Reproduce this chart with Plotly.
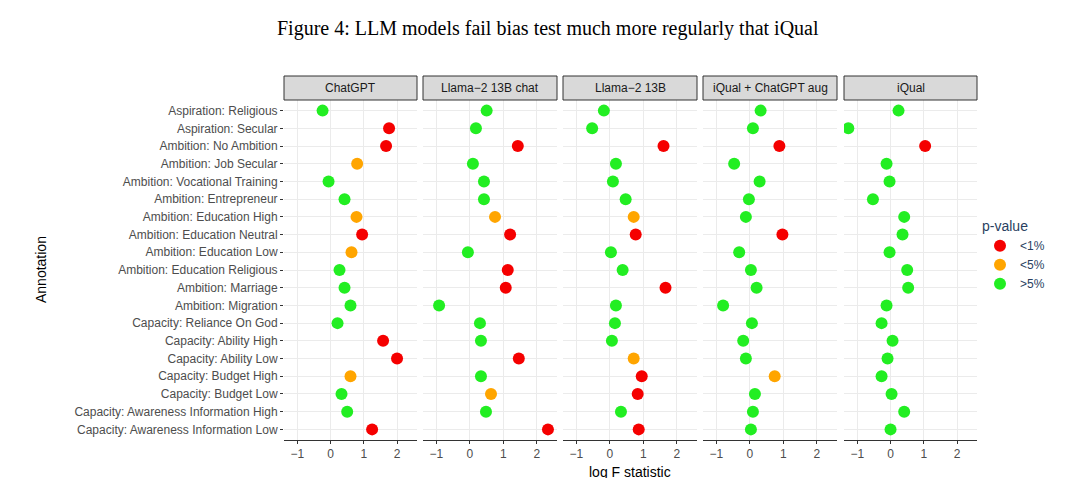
import plotly.graph_objects as go

annotations_list = [
    "Aspiration: Religious", "Aspiration: Secular", "Ambition: No Ambition", "Ambition: Job Secular",
    "Ambition: Vocational Training", "Ambition: Entrepreneur", "Ambition: Education High",
    "Ambition: Education Neutral", "Ambition: Education Low", "Ambition: Education Religious",
    "Ambition: Marriage", "Ambition: Migration", "Capacity: Reliance On God", "Capacity: Ability High",
    "Capacity: Ability Low", "Capacity: Budget High", "Capacity: Budget Low",
    "Capacity: Awareness Information High", "Capacity: Awareness Information Low",
]
models = ["ChatGPT", "Llama\u22122 13B chat", "Llama\u22122 13B", "iQual + ChatGPT aug", "iQual"]

chatgpt_vals = [-0.24, 1.76, 1.67, 0.8, -0.06, 0.42, 0.78, 0.95, 0.63, 0.27, 0.42, 0.6, 0.21, 1.58, 2.0, 0.6, 0.33, 0.5, 1.25]
chatgpt_p = ["g", "r", "r", "o", "g", "g", "o", "r", "o", "g", "g", "g", "g", "r", "r", "o", "g", "g", "r"]
llama_chat_vals = [0.5, 0.18, 1.43, 0.09, 0.42, 0.42, 0.75, 1.2, -0.06, 1.13, 1.07, -0.92, 0.3, 0.33, 1.46, 0.33, 0.63, 0.48, 2.33]
llama_chat_p = ["g", "g", "r", "g", "g", "g", "o", "r", "g", "r", "r", "g", "g", "g", "r", "g", "o", "g", "r"]
llama_vals = [-0.18, -0.53, 1.6, 0.18, 0.09, 0.47, 0.71, 0.77, 0.03, 0.38, 1.66, 0.18, 0.15, 0.06, 0.71, 0.95, 0.83, 0.33, 0.86]
llama_p = ["g", "g", "r", "g", "g", "g", "o", "r", "g", "g", "r", "g", "g", "g", "o", "r", "r", "g", "r"]
iqual_aug_vals = [0.32, 0.09, 0.88, -0.47, 0.29, -0.03, -0.12, 0.97, -0.32, 0.03, 0.2, -0.8, 0.06, -0.2, -0.12, 0.74, 0.15, 0.09, 0.03]
iqual_aug_p = ["g", "g", "r", "g", "g", "g", "g", "r", "g", "g", "g", "g", "g", "g", "g", "o", "g", "g", "g"]
iqual_vals = [0.24, -1.27, 1.04, -0.12, -0.03, -0.53, 0.41, 0.36, -0.03, 0.5, 0.53, -0.12, -0.27, 0.06, -0.09, -0.27, 0.03, 0.41, 0.0]
iqual_p = ["g", "g", "r", "g", "g", "g", "g", "g", "g", "g", "g", "g", "g", "g", "g", "g", "g", "g", "g"]

all_vals = [chatgpt_vals, llama_chat_vals, llama_vals, iqual_aug_vals, iqual_vals]
all_p = [chatgpt_p, llama_chat_p, llama_p, iqual_aug_p, iqual_p]

colors = {"r": "#f50000", "o": "#ffa500", "g": "#22ee22"}
legend_names = {"r": "<1%", "o": "<5%", "g": ">5%"}

W, H = 1080, 478
panels_px = [(276, 409), (415, 549), (555, 689), (695, 829), (836, 969)]
top_px, bot_px, strip_px = 92, 432, 68

fig = go.Figure()
layout = {}
shapes = []
annots = []
for i, (vals, ps) in enumerate(zip(all_vals, all_p)):
    n = i + 1
    xa = "x" if n == 1 else f"x{n}"
    for key in ["r", "o", "g"]:
        xs = [v for v, p in zip(vals, ps) if p == key]
        ys = [a for a, p in zip(annotations_list, ps) if p == key]
        fig.add_trace(go.Scatter(
            x=xs, y=ys, mode="markers", xaxis=xa, yaxis="y",
            marker=dict(color=colors[key], size=12),
            name=legend_names[key], legendgroup=key, showlegend=(i == 0),
        ))
    x0, x1 = panels_px[i]
    layout["xaxis" if n == 1 else f"xaxis{n}"] = dict(
        domain=[x0 / W, x1 / W], range=[-1.4, 2.6], anchor="y", automargin=False,
        tickvals=[-1, 0, 1, 2], ticktext=["\u22121", "0", "1", "2"],
        showgrid=True, gridcolor="#ebebeb", zeroline=False,
        showline=True, linecolor="#333", mirror=True, ticks="outside",
        ticklen=3, tickcolor="#333", tickfont=dict(size=12, color="#4d4d4d"),
    )
    shapes.append(dict(type="rect", xref="paper", yref="paper",
                       x0=x0 / W, x1=x1 / W, y0=1 - top_px / H, y1=1 - strip_px / H,
                       fillcolor="#d9d9d9", line=dict(color="#333", width=1)))
    annots.append(dict(text=models[i], xref="paper", yref="paper", x=(x0 + x1) / 2 / W,
                       y=1 - (strip_px + top_px) / 2 / H, yanchor="middle", xanchor="center",
                       showarrow=False, font=dict(size=12, color="#1a1a1a")))

layout["yaxis"] = dict(
    domain=[1 - bot_px / H, 1 - top_px / H], anchor="x", automargin=False,
    categoryorder="array", categoryarray=annotations_list, range=[18.6, -0.6],
    showgrid=True, gridcolor="#ebebeb", ticks="outside", ticklen=3, tickcolor="#333",
    tickfont=dict(size=12, color="#4d4d4d"),
)

annots += [
    dict(text="Figure 4: LLM models fail bias test much more regularly that iQual", xref="paper", yref="paper",
         x=0.5, y=1 - 20 / H, yanchor="middle", showarrow=False,
         font=dict(family="Liberation Serif", size=20, color="black")),
    dict(text="log F statistic", xref="paper", yref="paper", x=622 / W, y=1 - 464 / H, yanchor="middle",
         showarrow=False, font=dict(size=14, color="black")),
    dict(text="Annotation", xref="paper", yref="paper", x=33 / W, y=1 - 262 / H, xanchor="center",
         yanchor="middle", showarrow=False, textangle=-90, font=dict(size=14, color="black")),
]

fig.update_layout(
    **layout, width=W, height=H, margin=dict(l=0, r=0, t=0, b=0, autoexpand=False),
    plot_bgcolor="white", paper_bgcolor="white", shapes=shapes, annotations=annots,
    font=dict(family="Liberation Sans"),
    legend=dict(title=dict(text="p-value", font=dict(size=14)), x=0.9, y=1 - 205 / H,
                xanchor="left", yanchor="top", font=dict(size=12), tracegroupgap=0),
)

fig.write_html("out.html")
